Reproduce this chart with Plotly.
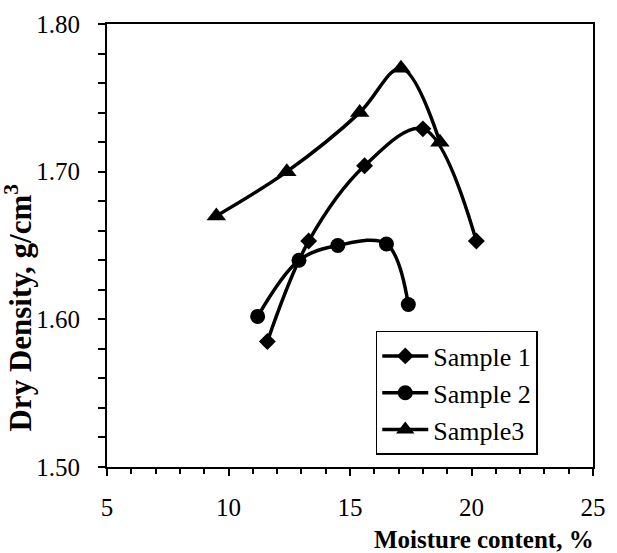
import plotly.graph_objects as go

# Data
s1_moisture = [11.6, 13.3, 15.6, 18.0, 20.2]
s1_density = [1.585, 1.653, 1.704, 1.729, 1.653]

s2_moisture = [11.2, 12.9, 14.5, 16.5, 17.4]
s2_density = [1.602, 1.640, 1.650, 1.651, 1.610]

s3_moisture = [9.5, 12.4, 15.4, 17.1, 18.7]
s3_density = [1.670, 1.700, 1.740, 1.770, 1.720]

series_names = ["Sample 1", "Sample 2", "Sample3"]
x_ticks = [5, 10, 15, 20, 25]
y_ticks = [1.50, 1.60, 1.70, 1.80]

FONT = "Liberation Serif"

fig = go.Figure()
series = [
    (s1_moisture, s1_density, "diamond", 13),
    (s2_moisture, s2_density, "circle", 15),
    (s3_moisture, s3_density, "triangle-up", 17),
]
for i, (xs, ys, sym, sz) in enumerate(series):
    fig.add_trace(go.Scatter(
        x=xs, y=ys, name=series_names[i], mode="lines+markers",
        line=dict(color="black", width=3.5, shape="spline", smoothing=1.0),
        marker=dict(symbol=sym, size=sz, color="black"),
        legendgroup=f"g{i}",
    ))

fig.update_layout(
    width=617, height=553,
    margin=dict(l=107, r=11, t=17, b=86),
    paper_bgcolor="white", plot_bgcolor="white",
    font=dict(family=FONT, size=25, color="black"),
    showlegend=True,
    legend=dict(
        x=0.553, y=0.307, xanchor="left", yanchor="top",
        bgcolor="white", bordercolor="black", borderwidth=1.5,
        font=dict(family=FONT, size=26, color="black"),
        tracegroupgap=0, itemwidth=46,
        entrywidth=190, entrywidthmode="pixels",
    ),
    xaxis=dict(
        range=[5, 25], tickvals=x_ticks, ticktext=[str(v) for v in x_ticks],
        showgrid=False, zeroline=False,
        showline=True, linecolor="black", linewidth=2, mirror=True,
        ticks="outside", ticklen=7, tickwidth=2, tickcolor="black",
        minor=dict(dtick=1, ticks="outside", ticklen=5, tickwidth=2, tickcolor="black", showgrid=False),
        ticklabelstandoff=10,
        tickfont=dict(family=FONT, size=25),
    ),
    yaxis=dict(
        range=[1.5, 1.8], tickvals=y_ticks, ticktext=[f"{v:.2f}" for v in y_ticks],
        showgrid=False, zeroline=False,
        showline=True, linecolor="black", linewidth=2, mirror=True,
        ticks="outside", ticklen=7, tickwidth=2, tickcolor="black",
        minor=dict(dtick=0.02, ticks="outside", ticklen=7, tickwidth=2, tickcolor="black", showgrid=False),
        ticklabelstandoff=13,
        tickfont=dict(family=FONT, size=25),
    ),
    annotations=[
        dict(text="<b>Moisture content, %</b>", xref="paper", yref="paper",
             x=1, y=0, xanchor="right", yanchor="middle", xshift=3, yshift=-72,
             showarrow=False, font=dict(family=FONT, size=25, color="black")),
        dict(text="<b>Dry Density, g/cm<sup>3</sup></b>", xref="paper", yref="paper",
             x=0, y=0.36, xanchor="center", yanchor="middle", xshift=-88,
             textangle=-90, showarrow=False,
             font=dict(family=FONT, size=31, color="black")),
    ],
)

fig.write_html("out.html")
